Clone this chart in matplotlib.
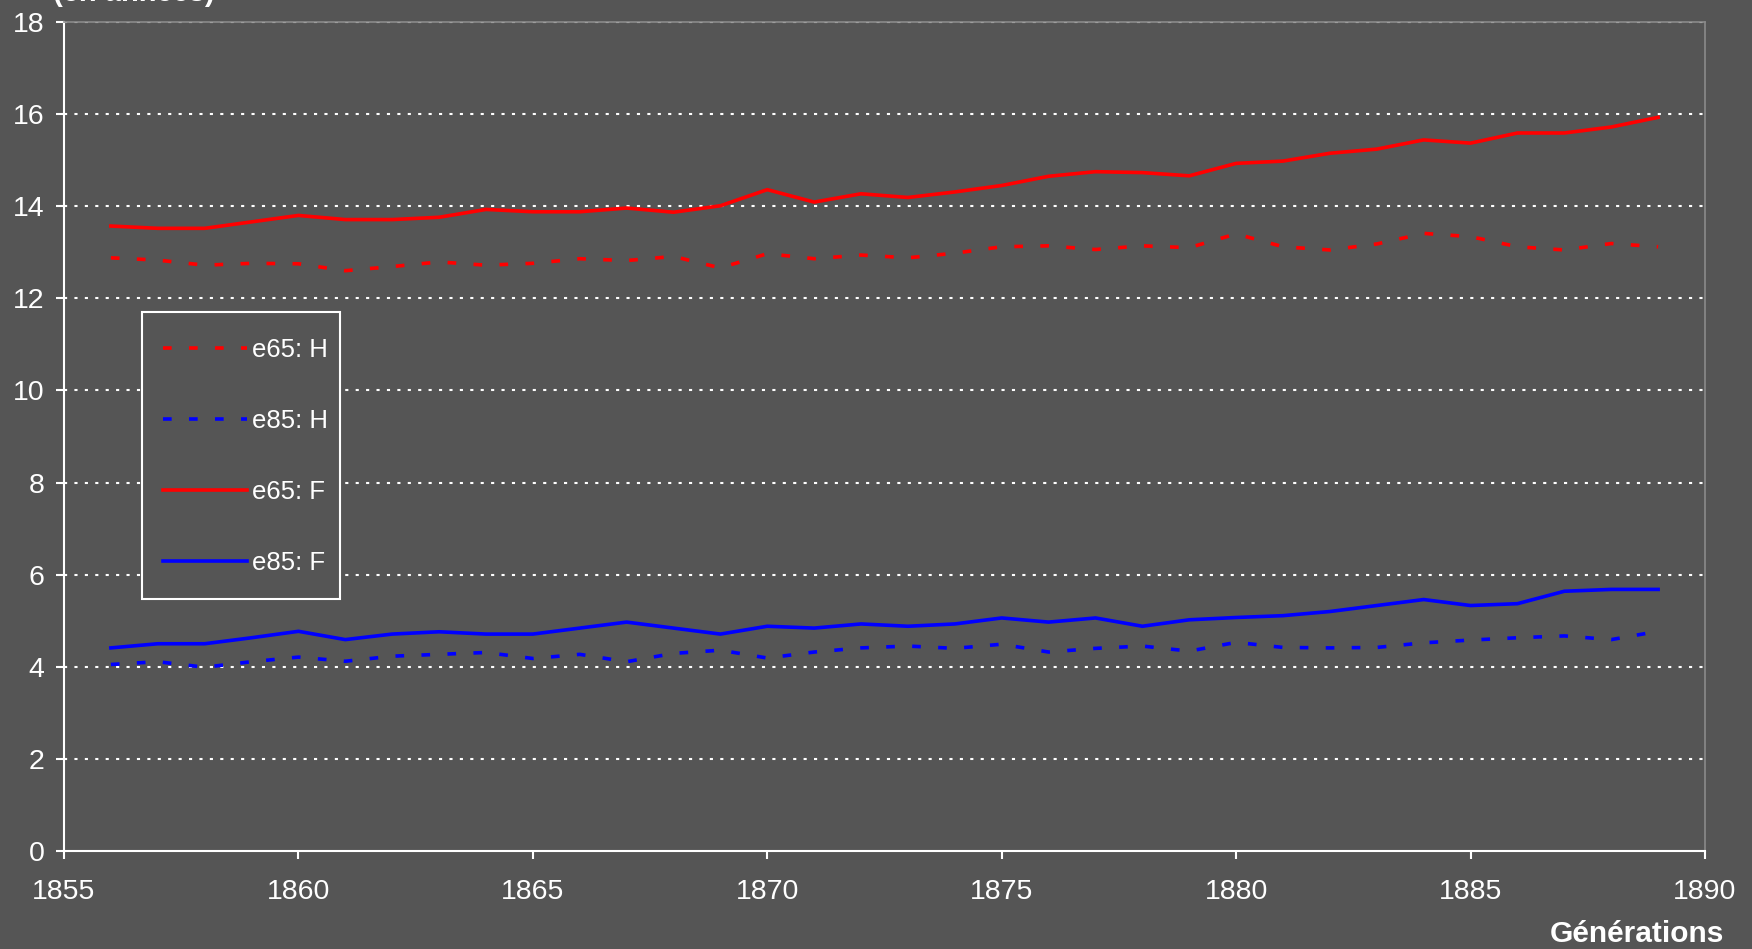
import matplotlib
matplotlib.use("Agg")
import matplotlib.pyplot as plt
from matplotlib.patches import Rectangle

# --- Data ---
years = list(range(1856, 1890))

e65_H = [12.88, 12.83, 12.72, 12.76, 12.75, 12.60, 12.69, 12.79, 12.72, 12.76,
         12.86, 12.82, 12.91, 12.66, 12.97, 12.86, 12.94, 12.88, 12.98, 13.12,
         13.14, 13.06, 13.14, 13.10, 13.40, 13.12, 13.05, 13.18, 13.41, 13.34,
         13.12, 13.05, 13.19, 13.12]
e85_H = [4.05, 4.11, 3.99, 4.11, 4.21, 4.12, 4.23, 4.27, 4.31, 4.18,
         4.27, 4.11, 4.29, 4.36, 4.19, 4.32, 4.41, 4.45, 4.40, 4.49,
         4.32, 4.40, 4.45, 4.34, 4.53, 4.42, 4.41, 4.42, 4.52, 4.58,
         4.63, 4.67, 4.59, 4.77]
e65_F = [13.57, 13.52, 13.52, 13.66, 13.80, 13.71, 13.71, 13.76, 13.93, 13.88,
         13.88, 13.96, 13.87, 14.01, 14.36, 14.09, 14.27, 14.19, 14.31, 14.45,
         14.65, 14.75, 14.73, 14.66, 14.93, 14.98, 15.15, 15.24, 15.44, 15.37,
         15.59, 15.59, 15.72, 15.93]
e85_F = [4.41, 4.50, 4.50, 4.63, 4.77, 4.59, 4.71, 4.76, 4.71, 4.71,
         4.84, 4.97, 4.84, 4.71, 4.88, 4.84, 4.93, 4.88, 4.93, 5.06,
         4.97, 5.06, 4.88, 5.02, 5.07, 5.11, 5.20, 5.33, 5.46, 5.33,
         5.37, 5.64, 5.68, 5.68]

x_ticks = [1855, 1860, 1865, 1870, 1875, 1880, 1885, 1890]
y_ticks = [0, 2, 4, 6, 8, 10, 12, 14, 16, 18]

# --- Style ---
BG = "#555555"
plt.rcParams["font.family"] = ["Liberation Sans", "DejaVu Sans"]

W, H = 1752, 949
fig = plt.figure(figsize=(W / 100, H / 100), dpi=100, facecolor=BG)
ax = fig.add_axes([64 / W, 1 - 851 / H, (1705 - 64) / W, (851 - 22) / H])
ax.set_facecolor(BG)

dash = (0, (2.4, 4.8))
ax.plot(years, e65_H, color="#ff0000", lw=2.6, ls=dash, label="e65: H", zorder=3)
ax.plot(years, e85_H, color="#0000ff", lw=2.6, ls=dash, label="e85: H", zorder=3)
ax.plot(years, e65_F, color="#ff0000", lw=2.6, label="e65: F", zorder=3)
ax.plot(years, e85_F, color="#0000ff", lw=2.6, label="e85: F", zorder=3)

ax.set_xlim(1855, 1890)
ax.set_ylim(0, 18)
ax.set_xticks(x_ticks)
ax.set_yticks(y_ticks)

# dotted white gridlines
for v in y_ticks[1:]:
    ax.axhline(v, color="white", lw=1.5, ls=(0, (1.5, 3.5)), zorder=2)

for side in ["left", "bottom"]:
    ax.spines[side].set_color("white")
    ax.spines[side].set_linewidth(1.5)
for side in ["top", "right"]:
    ax.spines[side].set_color("#8a8a8a")
    ax.spines[side].set_linewidth(1.2)

ax.tick_params(axis="both", colors="white", labelsize=20.5, width=1.5, length=6)
ax.tick_params(axis="x", pad=14.5)
ax.tick_params(axis="y", pad=8)

# legend: white box drawn by hand, entries without their own frame
ax.add_patch(Rectangle((142 / W, 1 - 599 / H), (340 - 142) / W, (599 - 312) / H,
                       transform=fig.transFigure, facecolor=BG, clip_on=False,
                       edgecolor="white", lw=1.5, zorder=4))
leg = ax.legend(loc="upper left", bbox_to_anchor=(163 / W, 1 - 338 / H),
                bbox_transform=fig.transFigure, borderaxespad=0, borderpad=0,
                fontsize=18.5, handlelength=3.27, handletextpad=0.18,
                labelspacing=1.83, frameon=False)
leg.set_zorder(5)
for t in leg.get_texts():
    t.set_color("white")

fig.text(1724 / W, 1 - 934 / H, "Générations", color="white", fontsize=21.5,
         fontweight="bold", ha="right", va="center")
fig.text(53 / W, 1 - 1 / H, "(en années)", color="white", fontsize=21,
         fontweight="bold", ha="left", va="baseline")

fig.savefig("out.png", dpi=100, facecolor=BG)
